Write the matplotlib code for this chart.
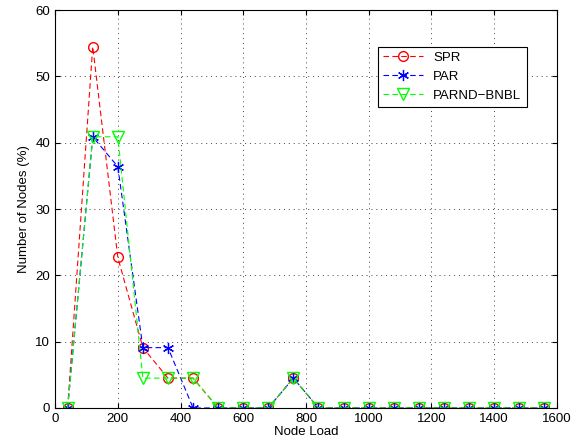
import numpy as np
import matplotlib.pyplot as plt

plt.rcParams['font.family'] = ['Liberation Sans', 'DejaVu Sans']

load = [40, 120, 200, 280, 360, 440, 520, 600, 680, 760, 840, 920, 1000,
        1080, 1160, 1240, 1320, 1400, 1480, 1560]
spr = [0, 54.5, 22.7, 9.1, 4.5, 4.5, 0, 0, 0, 4.5, 0, 0, 0, 0, 0, 0, 0, 0, 0, 0]
par = [0, 40.9, 36.4, 9.1, 9.1, 0, 0, 0, 0, 4.5, 0, 0, 0, 0, 0, 0, 0, 0, 0, 0]
parnd = [0, 40.9, 40.9, 4.5, 4.5, 4.5, 0, 0, 0, 4.5, 0, 0, 0, 0, 0, 0, 0, 0, 0, 0]

fig = plt.figure(figsize=(5.8, 4.42), dpi=100)
ax = fig.add_axes([0.095, 0.077, 0.865, 0.9])

dash = (0, (5, 3))
ax.plot(load, spr, color='r', ls=dash, marker='o', mfc='none', ms=7, lw=0.8, label='SPR')
ax.plot(load, par, color='b', ls=dash, marker=(6, 2, 0), ms=8, mew=0.9, lw=0.8, label='PAR')
ax.plot(load, parnd, color='#00ff00', ls=dash, marker='v', mfc='none', ms=8, lw=0.8,
        label='PARND\u2212BNBL')

ax.set_xlim(0, 1600)
ax.set_ylim(0, 60)
ax.set_xticks(np.arange(0, 1601, 200))
ax.set_yticks(np.arange(0, 61, 10))
ax.grid(True, ls=(0, (1, 4)), color='#444444', lw=0.7)
ax.tick_params(direction='in', labelsize=9.5, top=True, right=True)
ax.set_xlabel('Node Load', fontsize=9.5, labelpad=1)
ax.set_ylabel('Number of Nodes (%)', fontsize=9.5)

leg = ax.legend(loc='upper left', bbox_to_anchor=(0.63, 0.925), fontsize=9.5,
                fancybox=False, edgecolor='k', framealpha=1, handlelength=3)
leg.get_frame().set_linewidth(0.8)

fig.savefig('out.png')
